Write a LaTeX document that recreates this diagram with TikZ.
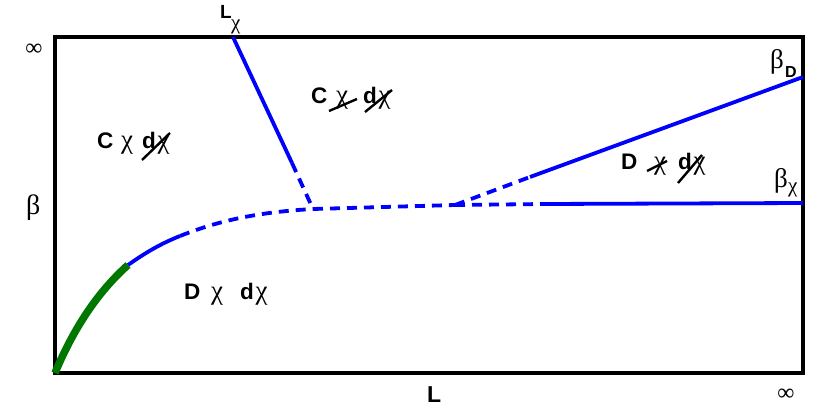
\documentclass[tikz,border=0pt]{standalone}
\usepackage{fontspec}
\setmainfont{Liberation Sans}
\newfontfamily\symf{Liberation Serif}
\definecolor{dgreen}{RGB}{0,120,0}
\begin{document}
\begin{tikzpicture}[x=1pt,y=-1pt,
 frame/.style={line width=4pt, black},
 bl/.style={line width=3.8pt, blue},
 bld/.style={bl, dash pattern=on 10pt off 7pt},
 gr/.style={line width=7.5pt, dgreen},
 strike/.style={line width=2.4pt, black},
 lab/.style={inner sep=0pt, anchor=base west, font=\bfseries\fontsize{22.5}{22.5}\selectfont},
 sym/.style={inner sep=0pt, anchor=base west, font=\symf\fontsize{27}{27}\selectfont},
]
\useasboundingbox (0,0) rectangle (831,412);

% frame
\draw[frame] (55,37) rectangle (803,373);

% key points
\coordinate (O) at (55,373);
\coordinate (G) at (128,265);
\coordinate (S) at (180,236);
\coordinate (T) at (313,209);
\coordinate (Lt) at (233,37);
\coordinate (Lm) at (292,163);
\coordinate (Q) at (455,205);
\coordinate (Rd) at (530,177);
\coordinate (Re) at (803,77);
\coordinate (Hd) at (545,204);
\coordinate (He) at (803,203);

% curve
\draw[gr] (O) .. controls (75,325) and (100,290) .. (G);
\draw[bl] (G) .. controls (145,253) and (160,244) .. (S);
\draw[bld] (S) .. controls (220,220) and (260,212) .. (T);

% L_chi line
\draw[bl] (Lt) -- (Lm);
\draw[bld] (Lm) -- (T);
\draw[bld] (T) -- (Q);
\draw[bld] (Q) -- (Rd);
\draw[bl] (Rd) -- (Re);
\draw[bld] (Q) -- (Hd);
\draw[bl] (Hd) -- (He);

% axis labels
\node[sym, anchor=center, font=\symf\fontsize{24}{24}\selectfont] (inf1) at (34,50) {∞};
\node[sym, font=\symf\fontsize{28}{28}\selectfont] (beta) at (26,214) {β};
\node[lab, font=\bfseries\fontsize{23}{23}\selectfont] (Lb) at (427,402) {L};
\node[sym, anchor=center, font=\symf\fontsize{24}{24}\selectfont] (inf2) at (786,395) {∞};
\node[lab, font=\bfseries\fontsize{19}{19}\selectfont] (Ltop) at (220,19) {L};
\node[sym, font=\symf\fontsize{21}{21}\selectfont] (Ltopc) at (231,30) {χ};
\node[sym, font=\symf\fontsize{27}{27}\selectfont] (bD) at (770,69) {β};
\node[lab, font=\bfseries\fontsize{16}{16}\selectfont] (bDs) at (785,78) {D};
\node[sym, font=\symf\fontsize{27}{27}\selectfont] (bX) at (774,187) {β};
\node[sym, font=\symf\fontsize{21}{21}\selectfont] (bXs) at (788,192) {χ};

% region 1: C chi d/chi
\node[lab] (a1) at (97,148) {C};
\node[sym] (a2) at (121,148) {χ};
\node[lab] (a3) at (142,148) {d};
\node[sym] (a4) at (157.5,148) {χ};
\draw[strike] (142,160) -- (170,133);

% region 2: C chi/ d/chi
\node[lab] (b1) at (311,104) {C};
\node[sym] (b2) at (336,104) {χ};
\node[lab] (b3) at (363,104) {d};
\node[sym] (b4) at (378.5,104) {χ};
\draw[strike] (329,111) -- (357,99);
\draw[strike] (365,112) -- (392,90);

% region 3: D chi/ d/chi
\node[lab] (c1) at (621,169) {D};
\node[sym] (c2) at (654,169) {χ};
\node[lab] (c3) at (678,169) {d};
\node[sym] (c4) at (693.5,169) {χ};
\draw[strike] (647,171) -- (667,161);
\draw[strike] (678,183) -- (702,155);

% region 4: D chi dchi
\node[lab] (d1) at (184,299) {D};
\node[sym] (d2) at (211,299) {χ};
\node[lab] (d3) at (240,299) {d};
\node[sym] (d4) at (255.5,299) {χ};
\end{tikzpicture}
\end{document}
